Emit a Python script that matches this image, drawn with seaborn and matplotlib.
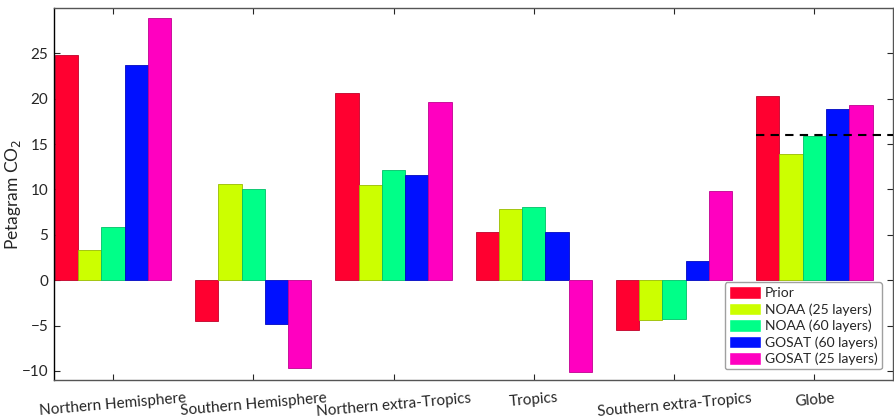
import pandas as pd
import matplotlib
matplotlib.use("Agg")
import matplotlib.pyplot as plt
import seaborn as sns

regions = ["Northern Hemisphere", "Southern Hemisphere", "Northern extra-Tropics",
           "Tropics", "Southern extra-Tropics", "Globe"]
series = ["Prior", "NOAA (25 layers)", "NOAA (60 layers)",
          "GOSAT (60 layers)", "GOSAT (25 layers)"]

prior   = [24.8, -4.5, 20.6, 5.3, -5.5, 20.3]
noaa25  = [3.3, 10.6, 10.5, 7.8, -4.4, 13.9]
noaa60  = [5.9, 10.0, 12.2, 8.1, -4.3, 15.9]
gosat60 = [23.7, -4.8, 11.6, 5.3, 2.1, 18.9]
gosat25 = [28.9, -9.7, 19.6, -10.1, 9.8, 19.3]
globe_ref = 16.0

colors = ["#FF0030", "#CCFF00", "#00FF88", "#0010FF", "#FF00C0"]
edges  = ["#C00028", "#99BB00", "#00C068", "#0008C0", "#C00090"]

df = pd.DataFrame({
    "region": regions * 5,
    "series": [s for s in series for _ in regions],
    "value":  prior + noaa25 + noaa60 + gosat60 + gosat25,
})

sns.set_style("white")
plt.rcParams["font.family"] = ["Lato", "DejaVu Sans"]

fig = plt.figure(figsize=(8.94, 4.17), dpi=100)
ax = fig.add_axes([54 / 894, 1 - 380 / 417, 839 / 894, 372 / 417])

sns.barplot(data=df, x="region", y="value", hue="series", order=regions,
            hue_order=series, palette=colors, width=0.83, ax=ax,
            saturation=1, errorbar=None)

for cont, ec in zip(ax.containers, edges):
    for bar in cont:
        bar.set_edgecolor(ec)
        bar.set_linewidth(0.6)

ax.set_xlim(-0.42, 5.56)
ax.set_ylim(-11, 30)
ax.set_yticks([-10, -5, 0, 5, 10, 15, 20, 25])
ax.set_yticklabels(["\u221210", "\u22125", "0", "5", "10", "15", "20", "25"])

# reference value for the globe
ax.hlines(globe_ref, 5 - 0.415, 5.56, colors="black", linestyles=(0, (4, 3)),
          linewidth=1.5, zorder=5)

ax.set_xlabel("")
ax.set_ylabel("Petagram CO$_2$", fontsize=12.5)
ax.yaxis.set_label_coords(-0.037, 0.5)
ax.tick_params(axis="x", labelsize=11, direction="in", length=4,
               top=True, bottom=True, pad=8)
ax.tick_params(axis="y", labelsize=11, direction="in", length=4,
               left=True, right=True, pad=4)
for lab in ax.get_xticklabels():
    lab.set_rotation(5)
for s in ax.spines.values():
    s.set_color("#555555")
    s.set_linewidth(1.0)
ax.spines["left"].set_color("black")

leg = ax.legend(loc="lower right", fontsize=10, frameon=True, fancybox=True,
                edgecolor="#888888", handlelength=2.3, handleheight=1.0,
                labelspacing=0.25, borderpad=0.3, handletextpad=0.3,
                bbox_to_anchor=(0.995, 0.01))
leg.get_frame().set_linewidth(1.0)

fig.savefig("out.png", dpi=100)
